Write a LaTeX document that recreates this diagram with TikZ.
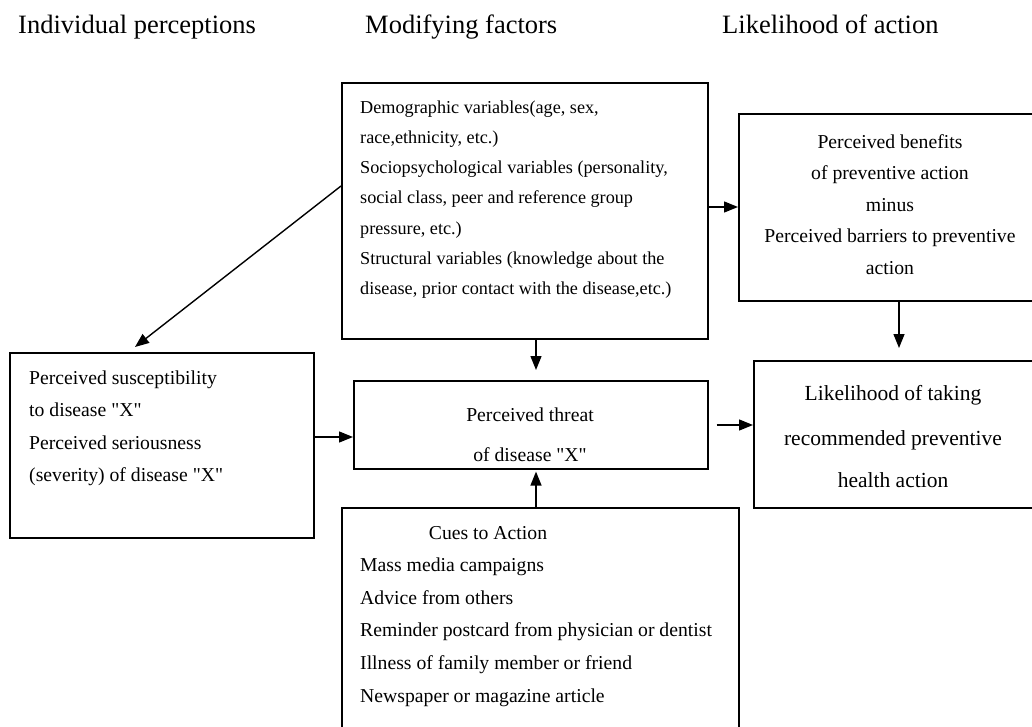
\documentclass[tikz,border=0pt]{standalone}
\usepackage{fontspec}
\setmainfont{Liberation Serif}
\usetikzlibrary{arrows.meta,calc}
\newcommand\sq{\XeTeXglyph\numexpr\XeTeXcharglyph"22\relax\relax}
\begin{document}
\begin{tikzpicture}[x=1pt,y=-1pt,
  box/.style={draw,line width=1.6pt,inner sep=0pt,anchor=north west},
  arr/.style={-{Triangle[length=14pt,width=11pt]},line width=1.4pt},
  ttl/.style={anchor=base west,inner sep=0pt,font=\fontsize{26.5}{30}\selectfont},
  tm/.style={anchor=base west,inner sep=0pt,font=\fontsize{18.2}{22}\selectfont},
  tx/.style={anchor=base west,inner sep=0pt,font=\fontsize{19.7}{24}\selectfont},
  tc/.style={anchor=base,inner sep=0pt,font=\fontsize{19.7}{24}\selectfont},
  tl/.style={anchor=base,inner sep=0pt,font=\fontsize{21.5}{26}\selectfont}]
\useasboundingbox (0,0) rectangle (1032,727);
\clip (0,0) rectangle (1032,727);
% titles
\node[ttl] (t1) at (18,33.7) {Individual perceptions};
\node[ttl] (t2) at (365,33.7) {Modifying factors};
\node[ttl] (t3) at (722,33.7) {Likelihood of action};
% boxes
\node[box,minimum width=366pt,minimum height=256pt] (mod) at (341,82) {};
\node[box,minimum width=310pt,minimum height=187pt] (ben) at (738,113) {};
\node[box,minimum width=304pt,minimum height=185pt] (ind) at (9,352) {};
\node[box,minimum width=354pt,minimum height=88pt] (thr) at (353,380) {};
\node[box,minimum width=300pt,minimum height=147pt] (lik) at (753,360) {};
\node[box,minimum width=397pt,minimum height=240pt] (cue) at (341,507) {};
% modifying factors text
\node[tm] (m1) at (360,114) {Demographic variables(age, sex,};
\node[tm] (m2) at (360,144) {race,ethnicity, etc.)};
\node[tm] (m3) at (360,174) {Sociopsychological variables (personality,};
\node[tm] (m4) at (360,204) {social class, peer and reference group};
\node[tm] (m5) at (360,234) {pressure, etc.)};
\node[tm] (m6) at (360,264) {Structural variables (knowledge about the};
\node[tm] (m7) at (360,294) {disease, prior contact with the disease,etc.)};
% benefits text
\node[tc] (b1) at (890,148.5) {Perceived benefits};
\node[tc] (b2) at (890,180) {of preventive action};
\node[tc] (b3) at (890,211.5) {minus};
\node[tc] (b4) at (890,243) {Perceived barriers to preventive};
\node[tc] (b5) at (890,274.5) {action};
% individual text
\node[tx] (i1) at (29,384.5) {Perceived susceptibility};
\node[tx] (i2) at (29,416.5) {to disease \sq X\sq};
\node[tx] (i3) at (29,449) {Perceived seriousness};
\node[tx] (i4) at (29,481.5) {(severity) of disease \sq X\sq};
% threat text
\node[tc] (h1) at (530,421.5) {Perceived threat};
\node[tc] (h2) at (530,461.5) {of disease \sq X\sq};
% likelihood text
\node[tl] (l1) at (893,400) {Likelihood of taking};
\node[tl] (l2) at (893,445) {recommended preventive};
\node[tl] (l3) at (893,487) {health action};
% cues text
\node[tc] (c0) at (488,539.5) {Cues to Action};
\node[tx] (c1) at (360,571.5) {Mass media campaigns};
\node[tx] (c2) at (360,604.5) {Advice from others};
\node[tx] (c3) at (360,636.5) {Reminder postcard from physician or dentist};
\node[tx] (c4) at (360,669.5) {Illness of family member or friend};
\node[tx] (c5) at (360,702.5) {Newspaper or magazine article};
% connectors
\draw[arr] ($(mod.north east)+(0,125)$) -- ($(ben.north west)+(0,94)$);
\draw[arr] ($(mod.north west)+(0,104)$) -- ($(ind.north west)+(126,-5)$);
\draw[arr] ($(mod.south west)+(195,0)$) -- ($(thr.north west)+(183,-10)$);
\draw[arr] ($(ben.south west)+(161,0)$) -- ($(lik.north west)+(146,-12)$);
\draw[arr] ($(ind.north east)+(0,85)$) -- ($(thr.north west)+(0,57)$);
\draw[arr] ($(thr.north east)+(8,45)$) -- ($(lik.north west)+(0,65)$);
\draw[arr] ($(cue.north west)+(195,0)$) -- ($(thr.south west)+(183,2)$);
\end{tikzpicture}
\end{document}
